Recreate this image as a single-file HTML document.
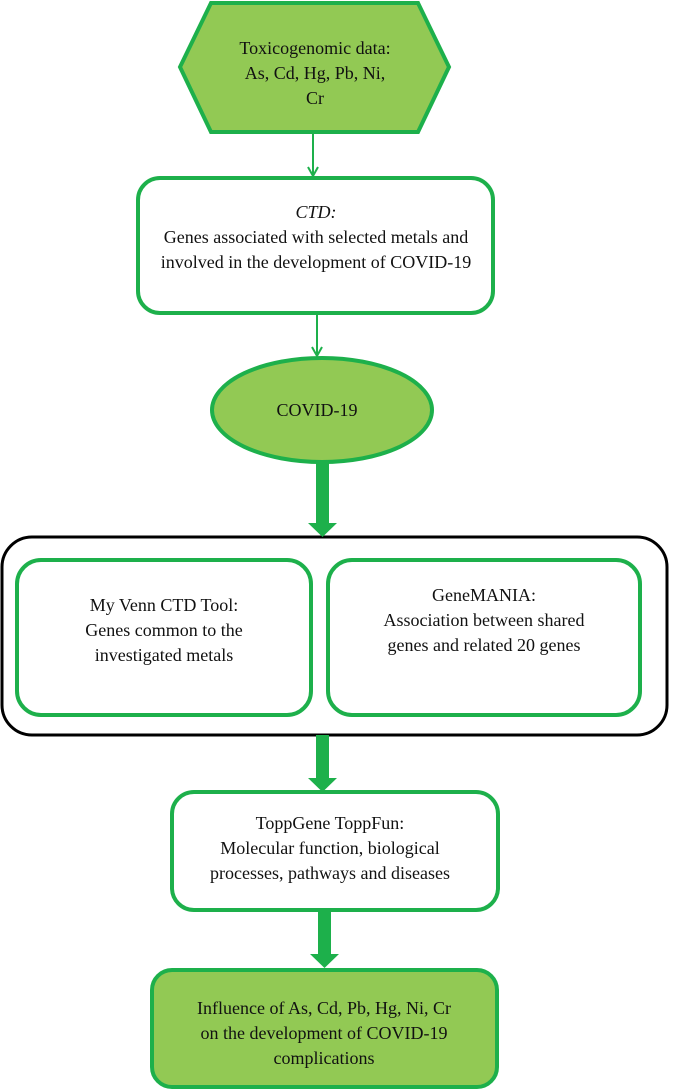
<!DOCTYPE html>
<html><head><meta charset="utf-8"><style>html,body{margin:0;padding:0;background:#fff}svg{display:block}text{font-family:"Liberation Serif","DejaVu Serif","Times New Roman",serif;font-size:18px;fill:#111}</style></head>
<body>
<svg width="674" height="1090" viewBox="0 0 674 1090" xmlns="http://www.w3.org/2000/svg">
<g stroke="#1db04b" stroke-width="4">
<polygon points="211,3 418,3 449,67 418,132 211,132 180,67" fill="#92c954"/>
<rect x="138" y="178" width="355" height="135" rx="22" fill="#fff"/>
<ellipse cx="322" cy="410" rx="110" ry="52" fill="#92c954"/>
<rect x="17" y="560" width="294" height="155" rx="24" fill="#fff"/>
<rect x="328" y="560" width="312" height="155" rx="24" fill="#fff"/>
<rect x="172" y="792" width="326" height="118" rx="22" fill="#fff"/>
<rect x="152" y="970" width="345" height="117" rx="20" fill="#92c954"/>
</g>
<rect x="2" y="537" width="665" height="198" rx="30" fill="none" stroke="#000" stroke-width="3"/>
<g stroke="#1db04b" stroke-width="2" fill="none">
<line x1="313" y1="133" x2="313" y2="176"/>
<path d="M308,167 L313,176 L318,167"/>
<line x1="317" y1="313" x2="317" y2="356"/>
<path d="M312,347 L317,356 L322,347"/>
</g>
<g fill="#1db04b">
<rect x="316" y="462" width="13" height="62"/><polygon points="308,523 337,523 322.5,537"/>
<rect x="316" y="735" width="13" height="44"/><polygon points="308,778 337,778 322.5,792"/>
<rect x="318" y="910" width="13" height="45"/><polygon points="310,954 339,954 324.5,968"/>
</g>
<g text-anchor="middle" dominant-baseline="central">
<text x="315" y="48">Toxicogenomic data:</text>
<text x="315" y="73">As, Cd, Hg, Pb, Ni,</text>
<text x="315" y="98">Cr</text>
<text x="316" y="212" font-style="italic">CTD:</text>
<text x="316" y="237">Genes associated with selected metals and</text>
<text x="316" y="262">involved in the development of COVID-19</text>
<text x="317" y="410">COVID-19</text>
<text x="164" y="605">My Venn CTD Tool:</text>
<text x="164" y="630">Genes common to the</text>
<text x="164" y="655">investigated metals</text>
<text x="484" y="595">GeneMANIA:</text>
<text x="484" y="620">Association between shared</text>
<text x="484" y="645">genes and related 20 genes</text>
<text x="330" y="823">ToppGene ToppFun:</text>
<text x="330" y="848">Molecular function, biological</text>
<text x="330" y="873">processes, pathways and diseases</text>
<text x="324" y="1008">Influence of As, Cd, Pb, Hg, Ni, Cr</text>
<text x="324" y="1033">on the development of COVID-19</text>
<text x="324" y="1058">complications</text>
</g>
</svg>
</body></html>
